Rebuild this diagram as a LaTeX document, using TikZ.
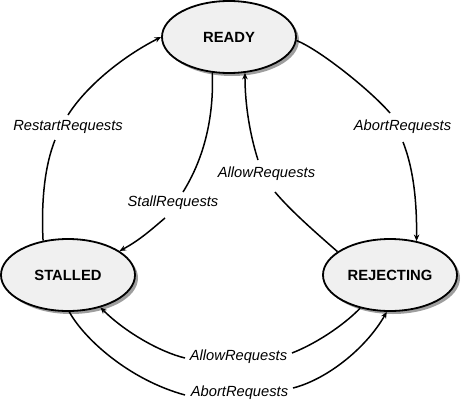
\documentclass[tikz,border=0pt]{standalone}
\usepackage{fontspec}
\setmainfont{Liberation Sans}
\usetikzlibrary{shapes.geometric,shadows,calc,arrows.meta}
\begin{document}
\begin{tikzpicture}[x=1pt,y=-1pt,
  state/.style={ellipse,draw=black,line width=1.8pt,fill=black!6,
    minimum width=134pt,minimum height=72pt,inner sep=0pt,
    font=\fontsize{14.8}{17}\selectfont\bfseries,
    drop shadow={shadow xshift=3pt,shadow yshift=-3pt,fill=black!38,opacity=1}},
  lab/.style={inner sep=0pt,font=\fontsize{14.7}{17}\selectfont\itshape},
  edge/.style={line width=1.5pt,draw=black},
  arr/.style={-{Stealth[length=6.5pt,width=5.5pt]}}]
\useasboundingbox (0,0) rectangle (462,404);
\node[state] (ready) at (229,37) {READY};
\node[state] (stalled) at (68,275) {STALLED};
\node[state] (rejecting) at (390,275) {REJECTING};
\node[lab] (la1) at (402.5,127) {AbortRequests};
\node[lab] (lr) at (68,127) {RestartRequests};
\node[lab] (ls) at (173,203) {StallRequests};
\node[lab] (lw1) at (266.5,174) {AllowRequests};
\node[lab] (lw2) at (238.5,357) {AllowRequests};
\node[lab] (la2) at (239.5,393) {AbortRequests};
% READY -> REJECTING
\draw[edge] (ready.-3) .. controls (320,50) and (370,90) .. ($(la1)+(-12.5,-14)$);
\draw[edge,arr] ($(la1)+(0.5,15)$) .. controls (412,165) and (417,195) .. (rejecting.52);
% STALLED -> READY
\draw[edge] (stalled.126) .. controls (41,200) and (45,165) .. ($(lr)+(-13,13)$);
\draw[edge,arr] ($(lr)+(0,-12)$) .. controls (85,88) and (120,58) .. (ready.180);
% READY -> STALLED
\draw[edge] (ready.-115) .. controls (214,120) and (203,160) .. ($(ls)+(10,-11)$);
\draw[edge,arr] ($(ls)+(-8,15)$) .. controls (152,229) and (140,240) .. (stalled.25);
% REJECTING -> READY
\draw[edge] (rejecting.156) .. controls (315,232) and (290,210) .. ($(lw1)+(8.5,18)$);
\draw[edge,arr] ($(lw1)+(-8.5,-14)$) .. controls (250,135) and (245,105) .. (ready.-66);
% REJECTING -> STALLED
\draw[edge] (rejecting.-132) .. controls (347,322) and (320,342) .. ($(lw2)+(53.5,-4)$);
\draw[edge,arr] ($(lw2)+(-53.5,1)$) .. controls (160,352) and (125,332) .. (stalled.-45);
% STALLED -> REJECTING
\draw[edge] (stalled.-88) .. controls (85,340) and (130,380) .. ($(la2)+(-54.5,2)$);
\draw[edge,arr] ($(la2)+(53.5,-5)$) .. controls (325,380) and (365,350) .. (rejecting.-95);
\end{tikzpicture}
\end{document}
